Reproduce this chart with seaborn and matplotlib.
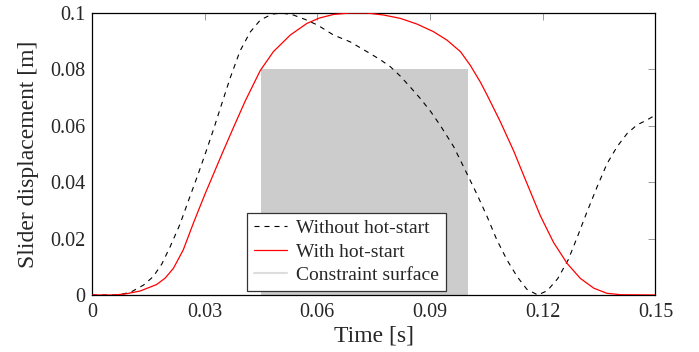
import matplotlib
matplotlib.use("Agg")
import matplotlib.pyplot as plt
import matplotlib.patches as mpatches
from matplotlib.lines import Line2D
import seaborn as sns
import pandas as pd

# Without hot-start (dashed black)
t_without = [0, 0.006, 0.0085, 0.0106, 0.0137, 0.0163, 0.0186, 0.0208, 0.0234, 0.0257,
             0.0283, 0.0304, 0.0323, 0.0346, 0.0368, 0.0394, 0.0421, 0.0448, 0.0479,
             0.0505, 0.0536, 0.0568, 0.0601, 0.0643, 0.0687, 0.0732, 0.0767, 0.0794,
             0.0821, 0.0847, 0.0874, 0.0901, 0.0927, 0.0963, 0.0998, 0.1025, 0.1052,
             0.1078, 0.1105, 0.1132, 0.1158, 0.1187, 0.1212, 0.1240, 0.1268, 0.1292,
             0.1318, 0.1345, 0.1371, 0.1398, 0.1425, 0.1451, 0.1478, 0.1500]
y_without = [0, 0.0, 0.0004, 0.0012, 0.0035, 0.0065, 0.0110, 0.0171, 0.0250, 0.0335,
             0.0430, 0.0510, 0.0585, 0.0680, 0.0770, 0.0865, 0.0932, 0.0975, 0.0996,
             0.1000, 0.0993, 0.0977, 0.0957, 0.0922, 0.0898, 0.0863, 0.0835, 0.0810,
             0.0776, 0.0738, 0.0697, 0.0652, 0.0602, 0.0526, 0.0431, 0.0357, 0.0278,
             0.0195, 0.0124, 0.0065, 0.0020, 0.0, 0.0015, 0.0058, 0.0125, 0.0205,
             0.0295, 0.0384, 0.0465, 0.0526, 0.0573, 0.0603, 0.0621, 0.0638]

# With hot-start (solid red)
t_with = [0, 0.006, 0.009, 0.0128, 0.0172, 0.0195, 0.0217, 0.0243, 0.0270, 0.0300,
          0.0346, 0.0377, 0.0408, 0.0448, 0.0483, 0.0528, 0.0572, 0.0605, 0.0643,
          0.0687, 0.0732, 0.0776, 0.0821, 0.0865, 0.0909, 0.0945, 0.0981, 0.1007,
          0.1034, 0.1052, 0.1087, 0.1123, 0.1149, 0.1194, 0.1229, 0.1265, 0.1300,
          0.1336, 0.1371, 0.1407, 0.1500]
y_with = [0, 0, 0.0004, 0.0014, 0.0037, 0.0060, 0.0095, 0.0160, 0.0255, 0.0355,
          0.0500, 0.0595, 0.0688, 0.0796, 0.0863, 0.0922, 0.0963, 0.0982, 0.0995,
          0.1000, 0.1000, 0.0993, 0.0981, 0.0961, 0.0934, 0.0904, 0.0863, 0.0815,
          0.0755, 0.0709, 0.0615, 0.0510, 0.0425, 0.0280, 0.0186, 0.0112, 0.0059,
          0.0024, 0.0006, 0.0001, 0]

# Constraint surface
constraint_t = [0.045, 0.100]
constraint_h = 0.08

x_ticks = [0, 0.03, 0.06, 0.09, 0.12, 0.15]
x_labels = ["0", "0.03", "0.06", "0.09", "0.12", "0.15"]
y_ticks = [0, 0.02, 0.04, 0.06, 0.08, 0.1]
y_labels = ["0", "0.02", "0.04", "0.06", "0.08", "0.1"]
legend_labels = ["Without hot-start", "With hot-start", "Constraint surface"]

sns.set_style("white")
plt.rcParams['font.family'] = ['Liberation Serif', 'DejaVu Serif']

fig = plt.figure(figsize=(6.99, 3.52), dpi=100)
ax = fig.add_axes([0.1316, 0.162, 0.806, 0.801])

ax.add_patch(mpatches.Rectangle((constraint_t[0], 0), constraint_t[1] - constraint_t[0],
                                constraint_h, facecolor="#cccccc", edgecolor="none", zorder=1))

dash = (0, (4.5, 4.5))
df_wo = pd.DataFrame({"t": t_without, "y": y_without})
df_w = pd.DataFrame({"t": t_with, "y": y_with})
sns.lineplot(data=df_wo, x="t", y="y", ax=ax, color="black", linewidth=0.8,
             linestyle=dash, zorder=3)
sns.lineplot(data=df_w, x="t", y="y", ax=ax, color="red", linewidth=0.9, zorder=3)

ax.set_xlim(0, 0.15)
ax.set_ylim(0, 0.1)
ax.set_xticks(x_ticks)
ax.set_xticklabels(x_labels)
ax.set_yticks(y_ticks)
ax.set_yticklabels(y_labels)
ax.tick_params(direction="in", length=5, width=0.7, color="#999999", labelsize=14.5,
               top=True, right=True)
ax.tick_params(axis="x", pad=6)
ax.tick_params(axis="y", pad=5)
for s in ax.spines.values():
    s.set_visible(True)
    s.set_color("black")
    s.set_linewidth(0.9)
ax.set_xlabel("Time [s]", fontsize=17, labelpad=2)
ax.set_ylabel("Slider displacement [m]", fontsize=17, labelpad=8)

handles = [Line2D([], [], color="black", linewidth=0.8, linestyle=dash),
           Line2D([], [], color="red", linewidth=0.9),
           Line2D([], [], color="#dddddd", linewidth=1.5)]
leg = ax.legend(handles, legend_labels,
                loc="lower left", bbox_to_anchor=(0.2753, 0.0142), fontsize=14,
                frameon=True, fancybox=False, framealpha=1, edgecolor="#333333",
                borderpad=0.35, labelspacing=0.3, handlelength=1.7, handletextpad=0.47,
                borderaxespad=0)
leg.get_frame().set_linewidth(0.9)

fig.savefig("out.png", dpi=100)
